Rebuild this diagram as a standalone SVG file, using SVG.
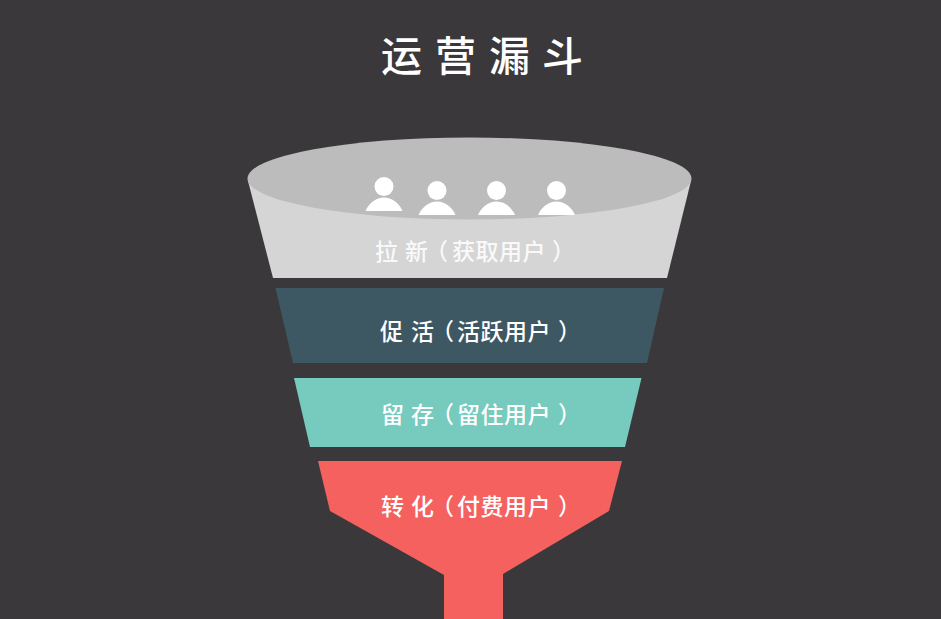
<svg xmlns="http://www.w3.org/2000/svg" width="941" height="619" viewBox="0 0 941 619">
<defs>
<style>
text{font-family:"Noto Sans CJK SC","Noto Sans",sans-serif;fill:#fff}
.l{font-size:23px;font-weight:500}
.p{fill:#fff}
</style>
<g id="person"><circle cx="0" cy="-24.500" r="9.500" class="p"/><path class="p" d="M-18.500 0C-15-8-8-13.500 0-13.500C8-13.500 15-8 18.500 0Z"/></g>
</defs>
<rect width="941" height="619" fill="#3a383b"/>
<text id="title" y="71" font-size="41" font-weight="500" x="381 435 489 542">运营漏斗</text>
<g id="node-acquire">
<path d="M248 181L273 278H667L691 181Z" fill="#d5d5d5"/>
<ellipse cx="469.500" cy="178.500" rx="222" ry="41" fill="#bcbcbc"/>
<use href="#person" x="384" y="211"/>
<use href="#person" x="437" y="215"/>
<use href="#person" x="496.500" y="215"/>
<use href="#person" x="556.500" y="215"/>
<text class="l" y="260" fill-opacity=".9" x="375 405 425 452 475.500 499 522.500 552">拉新（获取用户）</text>
</g>
<g id="node-activate">
<path d="M275.500 288H664L647 363H293Z" fill="#3d5863"/>
<text class="l" y="340" x="380 411 431 457 480.500 504 527.500 558">促活（活跃用户）</text>
</g>
<g id="node-retain">
<path d="M294 378H641.500L625 447H310Z" fill="#76cbbe"/>
<text class="l" y="423" x="381 411 431 457 480.500 504 527.500 558">留存（留住用户）</text>
</g>
<g id="node-convert">
<path d="M318 461H622L609 511L503 574V619H444V575L330 511Z" fill="#f4615f"/>
<text class="l" y="515" x="381 411 431 457 480.500 504 527.500 558">转化（付费用户）</text>
</g>
<g id="connectors"/>
</svg>
